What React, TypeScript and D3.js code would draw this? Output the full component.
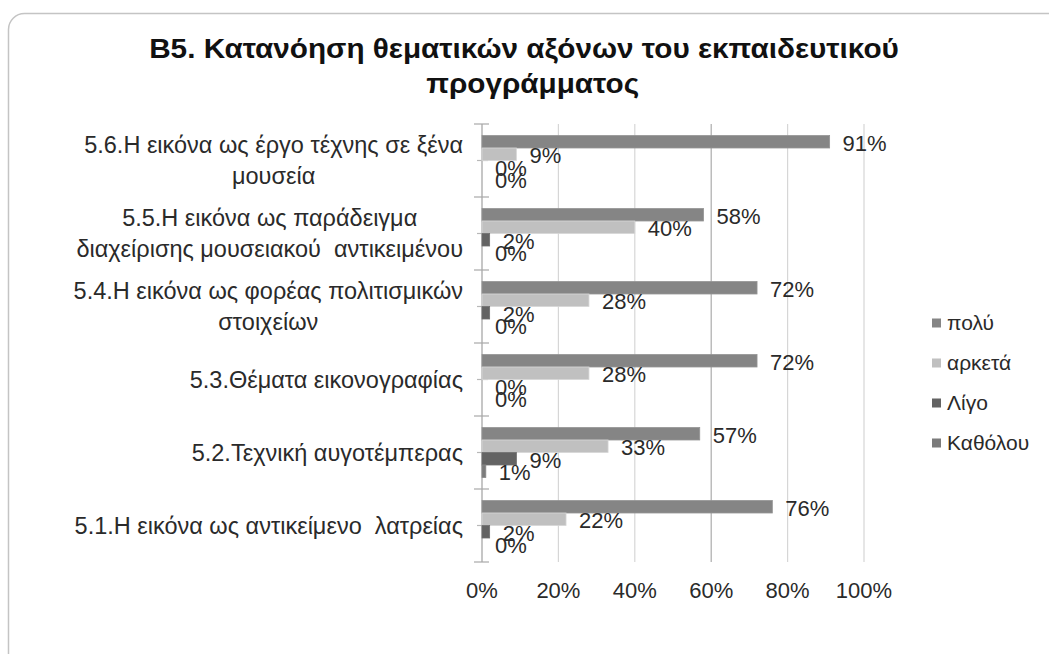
import React from 'react'
import * as d3 from 'd3'

const categories = [
  ['5.6.Η εικόνα ως έργο τέχνης σε ξένα', 'μουσεία'],
  ['5.5.Η εικόνα ως παράδειγμα', 'διαχείρισης μουσειακού  αντικειμένου'],
  ['5.4.Η εικόνα ως φορέας πολιτισμικών', 'στοιχείων'],
  ['5.3.Θέματα εικονογραφίας'],
  ['5.2.Τεχνική αυγοτέμπερας'],
  ['5.1.Η εικόνα ως αντικείμενο  λατρείας'],
]
const series = ['πολύ', 'αρκετά', 'Λίγο', 'Καθόλου']
const poly = [91, 58, 72, 72, 57, 76]
const arketa = [9, 40, 28, 28, 33, 22]
const ligo = [0, 2, 2, 0, 9, 2]
const katholou = [0, 0, 0, 0, 1, 0]
const ticks = [0, 20, 40, 60, 80, 100]
const colors = ['#858585', '#c0c0c0', '#636363', '#7b7b7b']

const values = [poly, arketa, ligo, katholou]
const font = '"Liberation Sans", Arial, sans-serif'
const catSize = 23.5

// measure text width with a canvas so multi-line labels can be centred as a block
const ctx = typeof document !== 'undefined' ? document.createElement('canvas').getContext('2d') : null
function textWidth(s: string, size: number) {
  if (!ctx) return s.length * size * 0.5
  ctx.font = `${size}px ${font}`
  return ctx.measureText(s).width
}

export default function App() {
  const width = 1049
  const height = 654
  const x = d3.scaleLinear().domain([0, 100]).range([482, 864])
  const y = d3
    .scaleBand<number>()
    .domain(d3.range(categories.length))
    .range([124, 562])
    .paddingInner(0.315)
    .paddingOuter(0.1575)
  const inner = d3.scaleBand<number>().domain(d3.range(series.length)).range([0, y.bandwidth()])
  const step = y.step()
  const bounds = d3.range(categories.length + 1).map(i => 124 + i * step)
  const mids = d3.range(categories.length).map(i => 124 + (i + 0.5) * step)

  return (
    <svg
      width={width}
      height={height}
      style={{ position: 'absolute', left: 0, top: 0, background: '#fff', fontFamily: font }}
    >
      <rect x={8.5} y={13.5} width={1100} height={700} rx={16} fill="#fff" stroke="#c4c4c4" strokeWidth={1.5} />

      <g transform="translate(524,0) scale(1.08,1)">
        <text x={0} y={58} textAnchor="middle" fontSize={27.5} fontWeight="bold" fill="#111">
          B5. Κατανόηση θεματικών αξόνων του εκπαιδευτικού
        </text>
        <text x={8} y={93} textAnchor="middle" fontSize={27.5} fontWeight="bold" fill="#111">
          προγράμματος
        </text>
      </g>

      {ticks.slice(1).map(t => (
        <line key={t} x1={x(t)} x2={x(t)} y1={124} y2={562} stroke={t === 60 ? '#ababab' : '#d6d6d6'} strokeWidth={1.2} />
      ))}

      <line x1={482} x2={482} y1={124} y2={562} stroke="#a0a0a0" strokeWidth={1.2} />
      {bounds.map((b, i) => (
        <line key={'b' + i} x1={474} x2={489} y1={b} y2={b} stroke="#a8a8a8" strokeWidth={1.2} />
      ))}
      {mids.map((m, i) => (
        <line key={'m' + i} x1={477} x2={488} y1={m} y2={m} stroke="#b8b8b8" strokeWidth={1.2} />
      ))}

      {values.map((vals, s) =>
        vals.map((v, c) => {
          const yy = (y(c) ?? 0) + (inner(s) ?? 0)
          return (
            <rect
              key={s + '-' + c}
              x={x(0)}
              y={yy}
              width={x(v) - x(0)}
              height={inner.bandwidth()}
              fill={colors[s]}
              stroke={d3.color(colors[s])!.brighter(0.3).formatHex()}
              strokeWidth={0.8}
            />
          )
        }),
      )}

      {values.map((vals, s) =>
        vals.map((v, c) => {
          const yy = (y(c) ?? 0) + (inner(s) ?? 0) + inner.bandwidth() / 2 + 1.5
          return (
            <text key={'l' + s + '-' + c} x={x(v) + 13} y={yy} dy="0.35em" fontSize={22} fill="#2a2a2a">
              {v}%
            </text>
          )
        }),
      )}

      {categories.map((lines, c) => {
        const cy = mids[c]
        const lh = 31
        const start = cy - ((lines.length - 1) * lh) / 2
        const maxW = d3.max(lines, l => textWidth(l, catSize)) ?? 0
        const cx = 463 - maxW / 2
        return (
          <text key={'c' + c} textAnchor="middle" fontSize={catSize} fill="#2a2a2a">
            {lines.map((l, i) => (
              <tspan key={i} x={cx} y={start + i * lh} dy="0.35em" style={{ whiteSpace: 'pre' }}>
                {l}
              </tspan>
            ))}
          </text>
        )
      })}

      {ticks.map(t => (
        <text key={'t' + t} x={x(t)} y={590} dy="0.35em" textAnchor="middle" fontSize={22} fill="#2a2a2a">
          {t}%
        </text>
      ))}

      {series.map((s, i) => {
        const ly = 323 + i * 40
        return (
          <g key={s}>
            <rect x={932} y={ly - 4.5} width={9} height={9} fill={colors[i]} />
            <text x={947} y={ly} dy="0.35em" fontSize={21} fill="#2a2a2a">
              {s}
            </text>
          </g>
        )
      })}
    </svg>
  )
}
